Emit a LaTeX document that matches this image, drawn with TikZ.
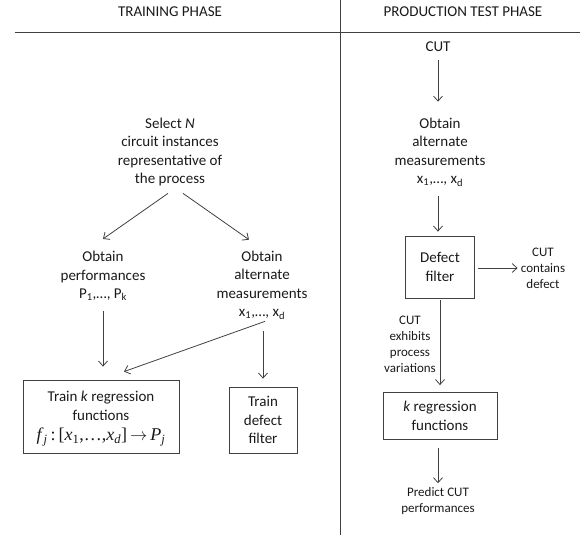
\documentclass[tikz,border=0pt]{standalone}
\usepackage{fontspec}
\setmainfont{Carlito}
\newfontfamily\tnr{Liberation Serif}
\usetikzlibrary{arrows.meta,calc}
\definecolor{ln}{HTML}{404040}
\definecolor{tx}{HTML}{1A1A1A}
\tikzset{
  txt/.style={align=center, inner sep=0pt, text=tx, font=\fontsize{15}{18.5}\selectfont},
  sml/.style={align=center, inner sep=0pt, text=tx, font=\fontsize{13}{16}\selectfont},
  hdr/.style={inner sep=0pt, text=tx, font=\fontsize{15}{16}\selectfont},
  box/.style={txt, draw=ln, line width=0.8pt},
  arr/.style={draw=ln, line width=0.8pt, -{Straight Barb[length=5pt,width=9pt]}},
  rule/.style={draw=ln, line width=0.8pt}
}
\begin{document}
\begin{tikzpicture}[x=1pt,y=-1pt]
\useasboundingbox (0,0) rectangle (584,535);
% header
\coordinate (hl) at (15,32);
\coordinate (hr) at (580,32);
\coordinate (vt) at (340,0);
\coordinate (vb) at (340,535);
\draw[rule] (hl) -- (hr);
\draw[rule] (vt) -- (vb);
\node[hdr] (h1) at (170,12) {TRAINING PHASE};
\node[hdr] (h2) at (463,12) {PRODUCTION TEST PHASE};
% training
\node[txt] (sel) at (170,152) {Select \textit{N}\\circuit instances\\representative of\\the process};
\node[txt] (perf) at (103,276) {Obtain\\performances\\P\textsubscript{1},…, P\textsubscript{k}};
\node[txt] (alt) at (262,285) {Obtain\\alternate\\measurements\\x\textsubscript{1},…, x\textsubscript{d}};
\node[box, minimum width=156pt, minimum height=73pt] (trk) at (101,416.5) {};
\node[txt] (trkt) at (101,406) {Train \textit{k} regression\\functions};
\node[txt, font=\tnr\fontsize{18}{20}\selectfont] (trkm) at (101,437) {\textit{f}\textsubscript{\textit{j}}\,:\,[\textit{x}\textsubscript{1},…,\textit{x}\textsubscript{\textit{d}}]\,$\rightarrow$\,\textit{P}\textsubscript{\textit{j}}};
\node[box, minimum width=68pt, minimum height=66pt] (trd) at (263,420) {Train\\defect\\filter};
\draw[arr] ($(sel.south)+(-2,7)$) -- ($(perf.north)+(0,-12)$);
\draw[arr] ($(sel.south)+(13,7)$) -- ($(alt.north)+(-13,-11)$);
\draw[arr] ($(perf.south)+(0,10)$) -- ($(trk.north)+(2,-13)$);
\draw[arr] ($(alt.south)+(3,2)$) -- ($(trk.north)+(23,-8)$);
\draw[arr] ($(alt.south)+(1,12)$) -- ($(trd.north)+(0,-8)$);
% production
\node[txt] (cut) at (438,47) {CUT};
\node[txt] (alt2) at (440,152) {Obtain\\alternate\\measurements\\x\textsubscript{1},…, x\textsubscript{d}};
\node[box, minimum width=69pt, minimum height=62pt] (df) at (440,267) {Defect\\filter};
\node[sml] (cd) at (543,268) {CUT\\contains\\defect};
\node[sml] (var) at (410,344) {CUT\\exhibits\\process\\variations};
\node[box, minimum width=114pt, minimum height=47pt] (kr) at (440,416) {\textit{k} regression\\functions};
\node[sml] (pr) at (438,501) {Predict CUT\\performances};
\draw[arr] ($(cut.south)+(0,8)$) -- ($(alt2.north)+(-2,-16)$);
\draw[arr] ($(alt2.south)+(-2,10)$) -- ($(df.north)+(-2,-4)$);
\draw[arr] ($(df.east)+(3,1)$) -- ($(cd.west)+(-3,0)$);
\draw[arr] ($(df.south)+(0,2)$) -- ($(kr.north)+(0,-7)$);
\draw[arr] ($(kr.south)+(-2,8)$) -- ($(pr.north)+(0,-4)$);
\end{tikzpicture}
\end{document}
